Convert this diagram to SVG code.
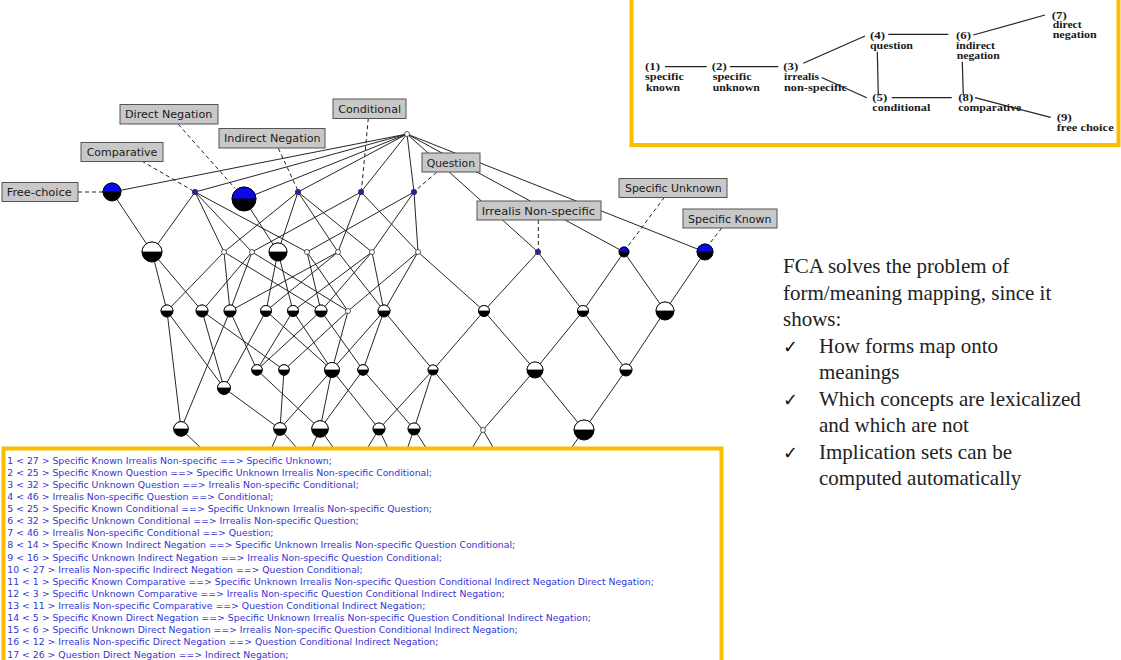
<svg xmlns="http://www.w3.org/2000/svg" width="1121" height="660" viewBox="0 0 1121 660">
<style>
.e line{stroke:#262626;stroke-width:1;fill:none}
.dl line{stroke:#222;stroke-width:1;stroke-dasharray:4 3}
.bk{fill:#000;stroke:#000;stroke-width:1}
.wt{fill:#fff;stroke:#000;stroke-width:0.8}
.bl{fill:#0a0ae6;stroke:#000;stroke-width:0.8}
.sw{fill:#fff;stroke:#333;stroke-width:0.8}
.sb{fill:#2020c8;stroke:#333;stroke-width:0.8}
.lb rect{fill:#c8c8c8;stroke:#555;stroke-width:1}
.lb text{font-family:"DejaVu Sans",sans-serif;font-size:11px;fill:#1a1a1a}
.it{font-family:"Liberation Serif",serif;font-weight:bold;font-size:10.5px;fill:#1a1a1a}
.il line{stroke:#222;stroke-width:1.2}
.imp{font-family:"DejaVu Sans",sans-serif;font-size:9.3px;fill:#3535d2}
.rt{font-family:"Liberation Serif",serif;font-size:21px;fill:#222}
.ck{font-family:"DejaVu Sans",sans-serif;font-size:18px;font-weight:bold;fill:#111}
.yb{fill:none;stroke:#f9be00;stroke-width:4}
</style>
<rect width="1121" height="660" fill="#fff"/>

<g id="inset">
<rect class="yb" x="631.5" y="-6" width="487" height="151"/>
<g class="il">
<line x1="665" y1="66.7" x2="706.7" y2="66.7"/>
<line x1="730" y1="66.7" x2="778.3" y2="66.7"/>
<line x1="803.3" y1="63.3" x2="865" y2="36"/>
<line x1="821.7" y1="77.5" x2="866.7" y2="97.7"/>
<line x1="888.3" y1="34.3" x2="948.3" y2="34.3"/>
<line x1="877.3" y1="51.7" x2="878.3" y2="95"/>
<line x1="973.3" y1="35" x2="1045" y2="15"/>
<line x1="962.3" y1="61.7" x2="963.3" y2="95"/>
<line x1="891.7" y1="97.7" x2="951.7" y2="97.7"/>
<line x1="975" y1="97.7" x2="1050.7" y2="117.3"/>
</g>
<text class="it" x="645" y="70" textLength="15" lengthAdjust="spacingAndGlyphs">(1)</text>
<text class="it" x="645" y="80" textLength="39" lengthAdjust="spacingAndGlyphs">specific</text>
<text class="it" x="646" y="90.5" textLength="34" lengthAdjust="spacingAndGlyphs">known</text>
<text class="it" x="711.7" y="70" textLength="15" lengthAdjust="spacingAndGlyphs">(2)</text>
<text class="it" x="712.7" y="80" textLength="39" lengthAdjust="spacingAndGlyphs">specific</text>
<text class="it" x="712.7" y="90.5" textLength="47" lengthAdjust="spacingAndGlyphs">unknown</text>
<text class="it" x="783.3" y="70" textLength="15" lengthAdjust="spacingAndGlyphs">(3)</text>
<text class="it" x="784" y="80" textLength="35" lengthAdjust="spacingAndGlyphs">irrealis</text>
<text class="it" x="784" y="90.5" textLength="63" lengthAdjust="spacingAndGlyphs">non-specific</text>
<text class="it" x="870" y="38.5" textLength="15" lengthAdjust="spacingAndGlyphs">(4)</text>
<text class="it" x="870" y="48.5" textLength="43" lengthAdjust="spacingAndGlyphs">question</text>
<text class="it" x="872.3" y="101" textLength="15" lengthAdjust="spacingAndGlyphs">(5)</text>
<text class="it" x="872.3" y="111" textLength="58" lengthAdjust="spacingAndGlyphs">conditional</text>
<text class="it" x="956" y="38.5" textLength="15" lengthAdjust="spacingAndGlyphs">(6)</text>
<text class="it" x="956" y="48.5" textLength="39" lengthAdjust="spacingAndGlyphs">indirect</text>
<text class="it" x="956.7" y="58.5" textLength="43" lengthAdjust="spacingAndGlyphs">negation</text>
<text class="it" x="1051.7" y="18.5" textLength="15" lengthAdjust="spacingAndGlyphs">(7)</text>
<text class="it" x="1052.7" y="28" textLength="29" lengthAdjust="spacingAndGlyphs">direct</text>
<text class="it" x="1052.7" y="38" textLength="44" lengthAdjust="spacingAndGlyphs">negation</text>
<text class="it" x="958.3" y="101" textLength="15" lengthAdjust="spacingAndGlyphs">(8)</text>
<text class="it" x="958.3" y="110.5" textLength="63" lengthAdjust="spacingAndGlyphs">comparative</text>
<text class="it" x="1056.7" y="121" textLength="15" lengthAdjust="spacingAndGlyphs">(9)</text>
<text class="it" x="1056.7" y="131" textLength="57" lengthAdjust="spacingAndGlyphs">free choice</text>
</g>

<g id="edges" class="e">
<line x1="407" y1="134" x2="112" y2="192"/>
<line x1="407" y1="134" x2="195" y2="192"/>
<line x1="407" y1="134" x2="244" y2="199"/>
<line x1="407" y1="134" x2="298" y2="192"/>
<line x1="407" y1="134" x2="361" y2="192"/>
<line x1="407" y1="134" x2="414" y2="192"/>
<line x1="407" y1="134" x2="538" y2="252"/>
<line x1="407" y1="134" x2="624" y2="252"/>
<line x1="407" y1="134" x2="705" y2="252"/>
<line x1="112" y1="192" x2="152" y2="252"/>
<line x1="195" y1="192" x2="152" y2="252"/>
<line x1="195" y1="192" x2="224" y2="252"/>
<line x1="195" y1="192" x2="252" y2="252"/>
<line x1="195" y1="192" x2="307" y2="252"/>
<line x1="244" y1="199" x2="278" y2="252"/>
<line x1="298" y1="192" x2="224" y2="252"/>
<line x1="298" y1="192" x2="278" y2="252"/>
<line x1="298" y1="192" x2="338" y2="252"/>
<line x1="298" y1="192" x2="372" y2="252"/>
<line x1="361" y1="192" x2="252" y2="252"/>
<line x1="361" y1="192" x2="338" y2="252"/>
<line x1="361" y1="192" x2="418" y2="252"/>
<line x1="414" y1="192" x2="307" y2="252"/>
<line x1="414" y1="192" x2="372" y2="252"/>
<line x1="414" y1="192" x2="418" y2="252"/>
<line x1="152" y1="252" x2="167" y2="311"/>
<line x1="152" y1="252" x2="202" y2="311"/>
<line x1="224" y1="252" x2="167" y2="311"/>
<line x1="224" y1="252" x2="230" y2="311"/>
<line x1="224" y1="252" x2="321" y2="311"/>
<line x1="252" y1="252" x2="202" y2="311"/>
<line x1="252" y1="252" x2="230" y2="311"/>
<line x1="252" y1="252" x2="348" y2="311"/>
<line x1="278" y1="252" x2="266" y2="311"/>
<line x1="278" y1="252" x2="293" y2="311"/>
<line x1="307" y1="252" x2="321" y2="311"/>
<line x1="307" y1="252" x2="348" y2="311"/>
<line x1="338" y1="252" x2="230" y2="311"/>
<line x1="338" y1="252" x2="266" y2="311"/>
<line x1="338" y1="252" x2="384" y2="311"/>
<line x1="372" y1="252" x2="293" y2="311"/>
<line x1="372" y1="252" x2="321" y2="311"/>
<line x1="372" y1="252" x2="384" y2="311"/>
<line x1="418" y1="252" x2="348" y2="311"/>
<line x1="418" y1="252" x2="384" y2="311"/>
<line x1="418" y1="252" x2="484" y2="311"/>
<line x1="538" y1="252" x2="484" y2="311"/>
<line x1="538" y1="252" x2="583" y2="311"/>
<line x1="624" y1="252" x2="583" y2="311"/>
<line x1="624" y1="252" x2="665" y2="311"/>
<line x1="705" y1="252" x2="665" y2="311"/>
<line x1="167" y1="311" x2="181" y2="429"/>
<line x1="167" y1="311" x2="224" y2="388"/>
<line x1="202" y1="311" x2="224" y2="388"/>
<line x1="202" y1="311" x2="284" y2="370"/>
<line x1="230" y1="311" x2="181" y2="429"/>
<line x1="230" y1="311" x2="257" y2="370"/>
<line x1="266" y1="311" x2="224" y2="388"/>
<line x1="266" y1="311" x2="332" y2="370"/>
<line x1="293" y1="311" x2="257" y2="370"/>
<line x1="293" y1="311" x2="332" y2="370"/>
<line x1="321" y1="311" x2="257" y2="370"/>
<line x1="321" y1="311" x2="363" y2="370"/>
<line x1="348" y1="311" x2="284" y2="370"/>
<line x1="348" y1="311" x2="332" y2="370"/>
<line x1="384" y1="311" x2="332" y2="370"/>
<line x1="384" y1="311" x2="363" y2="370"/>
<line x1="384" y1="311" x2="433" y2="370"/>
<line x1="484" y1="311" x2="433" y2="370"/>
<line x1="484" y1="311" x2="535" y2="370"/>
<line x1="583" y1="311" x2="535" y2="370"/>
<line x1="583" y1="311" x2="626" y2="370"/>
<line x1="665" y1="311" x2="626" y2="370"/>
<line x1="224" y1="388" x2="280" y2="429"/>
<line x1="257" y1="370" x2="320" y2="429"/>
<line x1="284" y1="370" x2="280" y2="429"/>
<line x1="332" y1="370" x2="280" y2="429"/>
<line x1="332" y1="370" x2="320" y2="429"/>
<line x1="332" y1="370" x2="379" y2="429"/>
<line x1="363" y1="370" x2="320" y2="429"/>
<line x1="363" y1="370" x2="414" y2="429"/>
<line x1="433" y1="370" x2="379" y2="429"/>
<line x1="433" y1="370" x2="414" y2="429"/>
<line x1="433" y1="370" x2="483" y2="430"/>
<line x1="535" y1="370" x2="483" y2="430"/>
<line x1="535" y1="370" x2="584" y2="430"/>
<line x1="626" y1="370" x2="584" y2="430"/>
<line x1="181" y1="429" x2="245" y2="490"/>
<line x1="280" y1="429" x2="255" y2="485"/>
<line x1="280" y1="429" x2="330" y2="485"/>
<line x1="320" y1="429" x2="295" y2="485"/>
<line x1="320" y1="429" x2="360" y2="485"/>
<line x1="379" y1="429" x2="345" y2="485"/>
<line x1="379" y1="429" x2="405" y2="485"/>
<line x1="414" y1="429" x2="395" y2="485"/>
<line x1="414" y1="429" x2="450" y2="485"/>
<line x1="483" y1="430" x2="450" y2="485"/>
<line x1="483" y1="430" x2="515" y2="485"/>
<line x1="584" y1="430" x2="545" y2="485"/>
</g>

<g id="leaders" class="dl">
<line x1="78" y1="192" x2="103" y2="192"/>
<line x1="141.7" y1="161" x2="193.3" y2="191"/>
<line x1="178.3" y1="124.3" x2="235" y2="188.3"/>
<line x1="278.3" y1="148.3" x2="297.7" y2="190"/>
<line x1="368.3" y1="118.3" x2="361.5" y2="190"/>
<line x1="436.7" y1="172.3" x2="415.5" y2="190.5"/>
<line x1="538.3" y1="220" x2="538.3" y2="249.5"/>
<line x1="664.3" y1="197.3" x2="627" y2="247.5"/>
<line x1="721.7" y1="228" x2="708.5" y2="245"/>
</g>

<g id="n-top"><circle class="sw" cx="407" cy="134" r="2.5"/></g>
<g id="n-freechoice"><circle class="bk" cx="112" cy="192" r="9"/><path class="bl" d="M103 192A9 9 0 0 1 121 192Z"/></g>
<g id="n-comparative"><circle class="sb" cx="195" cy="192" r="2.7"/></g>
<g id="n-directneg"><circle class="bk" cx="244" cy="199" r="12"/><path class="bl" d="M232 199A12 12 0 0 1 256 199Z"/></g>
<g id="n-indirectneg"><circle class="sb" cx="298" cy="192" r="2.7"/></g>
<g id="n-conditional"><circle class="sb" cx="361" cy="192" r="2.7"/></g>
<g id="n-question"><circle class="sb" cx="414" cy="192" r="2.7"/></g>
<g id="n-irrealis"><circle class="sb" cx="538" cy="252" r="2.7"/></g>
<g id="n-specunknown"><circle class="bk" cx="624" cy="252" r="5"/><path class="bl" d="M619 252A5 5 0 0 1 629 252Z"/></g>
<g id="n-specknown"><circle class="bk" cx="705" cy="252" r="8"/><path class="bl" d="M697 252A8 8 0 0 1 713 252Z"/></g>
<g id="n-a"><circle class="bk" cx="152" cy="252" r="10"/><path class="wt" d="M142 252A10 10 0 0 1 162 252Z"/></g>
<g id="n-b"><circle class="sw" cx="224" cy="252" r="2.5"/></g>
<g id="n-c"><circle class="sw" cx="252" cy="252" r="2.5"/></g>
<g id="n-d"><circle class="bk" cx="278" cy="252" r="9"/><path class="wt" d="M269 252A9 9 0 0 1 287 252Z"/></g>
<g id="n-e"><circle class="sw" cx="307" cy="252" r="2.5"/></g>
<g id="n-f"><circle class="sw" cx="338" cy="252" r="2.5"/></g>
<g id="n-g"><circle class="sw" cx="372" cy="252" r="2.5"/></g>
<g id="n-h"><circle class="sw" cx="418" cy="252" r="2.5"/></g>
<g id="n-r1"><circle class="bk" cx="167" cy="311" r="6"/><path class="wt" d="M161 311A6 6 0 0 1 173 311Z"/></g>
<g id="n-r2"><circle class="bk" cx="202" cy="311" r="6"/><path class="wt" d="M196 311A6 6 0 0 1 208 311Z"/></g>
<g id="n-r3"><circle class="bk" cx="230" cy="311" r="6"/><path class="wt" d="M224 311A6 6 0 0 1 236 311Z"/></g>
<g id="n-r4"><circle class="bk" cx="266" cy="311" r="5.5"/><path class="wt" d="M260.5 311A5.5 5.5 0 0 1 271.5 311Z"/></g>
<g id="n-r5"><circle class="bk" cx="293" cy="311" r="5.5"/><path class="wt" d="M287.5 311A5.5 5.5 0 0 1 298.5 311Z"/></g>
<g id="n-r6"><circle class="bk" cx="321" cy="311" r="6"/><path class="wt" d="M315 311A6 6 0 0 1 327 311Z"/></g>
<g id="n-r7"><circle class="sw" cx="348" cy="311" r="2.5"/></g>
<g id="n-r8"><circle class="bk" cx="384" cy="311" r="6"/><path class="wt" d="M378 311A6 6 0 0 1 390 311Z"/></g>
<g id="n-r9"><circle class="bk" cx="484" cy="311" r="5.5"/><path class="wt" d="M478.5 311A5.5 5.5 0 0 1 489.5 311Z"/></g>
<g id="n-r10"><circle class="bk" cx="583" cy="311" r="5.5"/><path class="wt" d="M577.5 311A5.5 5.5 0 0 1 588.5 311Z"/></g>
<g id="n-r11"><circle class="bk" cx="665" cy="311" r="9"/><path class="wt" d="M656 311A9 9 0 0 1 674 311Z"/></g>
<g id="n-s1"><circle class="bk" cx="224" cy="388" r="6.5"/><path class="wt" d="M217.5 388A6.5 6.5 0 0 1 230.5 388Z"/></g>
<g id="n-s2"><circle class="bk" cx="257" cy="370" r="5.3"/><path class="wt" d="M251.7 370A5.3 5.3 0 0 1 262.3 370Z"/></g>
<g id="n-s3"><circle class="bk" cx="284" cy="370" r="5.3"/><path class="wt" d="M278.7 370A5.3 5.3 0 0 1 289.3 370Z"/></g>
<g id="n-s4"><circle class="bk" cx="332" cy="370" r="7.5"/><path class="wt" d="M324.5 370A7.5 7.5 0 0 1 339.5 370Z"/></g>
<g id="n-s5"><circle class="bk" cx="363" cy="370" r="5.3"/><path class="wt" d="M357.7 370A5.3 5.3 0 0 1 368.3 370Z"/></g>
<g id="n-s6"><circle class="bk" cx="433" cy="370" r="5"/><path class="wt" d="M428 370A5 5 0 0 1 438 370Z"/></g>
<g id="n-s7"><circle class="bk" cx="535" cy="370" r="8"/><path class="wt" d="M527 370A8 8 0 0 1 543 370Z"/></g>
<g id="n-s8"><circle class="bk" cx="626" cy="370" r="6"/><path class="wt" d="M620 370A6 6 0 0 1 632 370Z"/></g>
<g id="n-u1"><circle class="bk" cx="181" cy="429" r="7.3"/><path class="wt" d="M173.7 429A7.3 7.3 0 0 1 188.3 429Z"/></g>
<g id="n-u2"><circle class="bk" cx="280" cy="429" r="6.3"/><path class="wt" d="M273.7 429A6.3 6.3 0 0 1 286.3 429Z"/></g>
<g id="n-u3"><circle class="bk" cx="320" cy="429" r="8.3"/><path class="wt" d="M311.7 429A8.3 8.3 0 0 1 328.3 429Z"/></g>
<g id="n-u4"><circle class="bk" cx="379" cy="429" r="6"/><path class="wt" d="M373 429A6 6 0 0 1 385 429Z"/></g>
<g id="n-u5"><circle class="bk" cx="414" cy="429" r="6"/><path class="wt" d="M408 429A6 6 0 0 1 420 429Z"/></g>
<g id="n-u6"><circle class="sw" cx="483" cy="430" r="2.5"/></g>
<g id="n-u7"><circle class="bk" cx="584" cy="430" r="10"/><path class="wt" d="M574 430A10 10 0 0 1 594 430Z"/></g>

<g id="labels" class="lb">
<g id="l-freechoice"><rect x="2" y="182.5" width="76" height="19"/><text x="6.7" y="196" textLength="65" lengthAdjust="spacingAndGlyphs">Free-choice</text></g>
<g id="l-comparative"><rect x="81" y="142.5" width="82" height="19"/><text x="86.7" y="156" textLength="70.7" lengthAdjust="spacingAndGlyphs">Comparative</text></g>
<g id="l-directneg"><rect x="120" y="104.5" width="98" height="19.5"/><text x="125" y="118" textLength="87.3" lengthAdjust="spacingAndGlyphs">Direct Negation</text></g>
<g id="l-indirectneg"><rect x="219" y="128.5" width="106" height="19.5"/><text x="224" y="142" textLength="96.7" lengthAdjust="spacingAndGlyphs">Indirect Negation</text></g>
<g id="l-conditional"><rect x="333" y="99" width="73" height="19.5"/><text x="338.3" y="112.8" textLength="62.7" lengthAdjust="spacingAndGlyphs">Conditional</text></g>
<g id="l-question"><rect x="422" y="153" width="58" height="19"/><text x="426.7" y="166.5" textLength="48.3" lengthAdjust="spacingAndGlyphs">Question</text></g>
<g id="l-irrealis"><rect x="477" y="201" width="124" height="19"/><text x="481.7" y="214.5" textLength="113.3" lengthAdjust="spacingAndGlyphs">Irrealis Non-specific</text></g>
<g id="l-specunknown"><rect x="619" y="178.5" width="108" height="19"/><text x="625" y="192" textLength="96.7" lengthAdjust="spacingAndGlyphs">Specific Unknown</text></g>
<g id="l-specknown"><rect x="683" y="209" width="94" height="19"/><text x="688" y="222.5" textLength="83.5" lengthAdjust="spacingAndGlyphs">Specific Known</text></g>
</g>

<g id="implications">
<rect x="3.5" y="448.5" width="718" height="220" fill="#fff" stroke="#f9be00" stroke-width="4"/>
<text class="imp" x="7.3" y="463.5">1 &lt; 27 &gt; Specific Known Irrealis Non-specific ==&gt; Specific Unknown;</text>
<text class="imp" x="7.3" y="475.6">2 &lt; 25 &gt; Specific Known Question ==&gt; Specific Unknown Irrealis Non-specific Conditional;</text>
<text class="imp" x="7.3" y="487.75">3 &lt; 32 &gt; Specific Unknown Question ==&gt; Irrealis Non-specific Conditional;</text>
<text class="imp" x="7.3" y="499.9">4 &lt; 46 &gt; Irrealis Non-specific Question ==&gt; Conditional;</text>
<text class="imp" x="7.3" y="512">5 &lt; 25 &gt; Specific Known Conditional ==&gt; Specific Unknown Irrealis Non-specific Question;</text>
<text class="imp" x="7.3" y="524.1">6 &lt; 32 &gt; Specific Unknown Conditional ==&gt; Irrealis Non-specific Question;</text>
<text class="imp" x="7.3" y="536.25">7 &lt; 46 &gt; Irrealis Non-specific Conditional ==&gt; Question;</text>
<text class="imp" x="7.3" y="548.4">8 &lt; 14 &gt; Specific Known Indirect Negation ==&gt; Specific Unknown Irrealis Non-specific Question Conditional;</text>
<text class="imp" x="7.3" y="560.5">9 &lt; 16 &gt; Specific Unknown Indirect Negation ==&gt; Irrealis Non-specific Question Conditional;</text>
<text class="imp" x="7.3" y="572.6">10 &lt; 27 &gt; Irrealis Non-specific Indirect Negation ==&gt; Question Conditional;</text>
<text class="imp" x="7.3" y="584.75">11 &lt; 1 &gt; Specific Known Comparative ==&gt; Specific Unknown Irrealis Non-specific Question Conditional Indirect Negation Direct Negation;</text>
<text class="imp" x="7.3" y="596.9">12 &lt; 3 &gt; Specific Unknown Comparative ==&gt; Irrealis Non-specific Question Conditional Indirect Negation;</text>
<text class="imp" x="7.3" y="609">13 &lt; 11 &gt; Irrealis Non-specific Comparative ==&gt; Question Conditional Indirect Negation;</text>
<text class="imp" x="7.3" y="621.1">14 &lt; 5 &gt; Specific Known Direct Negation ==&gt; Specific Unknown Irrealis Non-specific Question Conditional Indirect Negation;</text>
<text class="imp" x="7.3" y="633.25">15 &lt; 6 &gt; Specific Unknown Direct Negation ==&gt; Irrealis Non-specific Question Conditional Indirect Negation;</text>
<text class="imp" x="7.3" y="645.4">16 &lt; 12 &gt; Irrealis Non-specific Direct Negation ==&gt; Question Conditional Indirect Negation;</text>
<text class="imp" x="7.3" y="657.5">17 &lt; 26 &gt; Question Direct Negation ==&gt; Indirect Negation;</text>
</g>

<g id="notes">
<text class="rt" x="783" y="273">FCA solves the problem of</text>
<text class="rt" x="783" y="299.5">form/meaning mapping, since it</text>
<text class="rt" x="783" y="326">shows:</text>
<text class="ck" x="783" y="353">✓</text>
<text class="rt" x="819" y="352.5">How forms map onto</text>
<text class="rt" x="819" y="379">meanings</text>
<text class="ck" x="783" y="406">✓</text>
<text class="rt" x="819" y="405.5">Which concepts are lexicalized</text>
<text class="rt" x="819" y="432">and which are not</text>
<text class="ck" x="783" y="459">✓</text>
<text class="rt" x="819" y="458.5">Implication sets can be</text>
<text class="rt" x="819" y="485">computed automatically</text>
</g>
</svg>
